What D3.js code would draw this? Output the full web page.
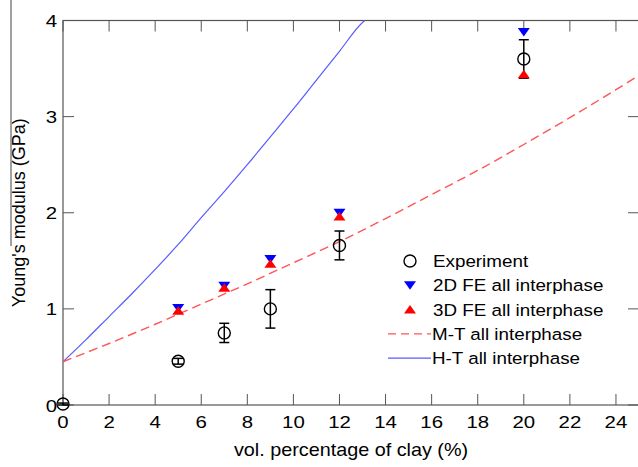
<!DOCTYPE html>
<html>
<head>
<meta charset="utf-8">
<script src="https://d3js.org/d3.v7.min.js"></script>
<style>
  body { margin: 0; background: #fff; }
  svg { display: block; font-family: "Liberation Sans", Arial, sans-serif; }
</style>
</head>
<body>
<div id="chart"></div>
<script>
// experiment (mean and error bar half-length)
var expX = [0, 5, 7, 9, 12, 20]
var expY = [0.01, 0.455, 0.75, 1.0, 1.66, 3.6]
var expErr = [0.01, 0.03, 0.1, 0.2, 0.15, 0.2]

// finite element results
var feX = [5, 7, 9, 12, 20]
var fe2dY = [1.01, 1.24, 1.52, 2.0, 3.88]
var fe3dY = [0.98, 1.22, 1.47, 1.96, 3.44]

// Mori-Tanaka curve
var mtX = [0, 2, 4, 6, 8, 10, 12, 14, 16, 18, 20, 22, 24, 25]
var mtY = [0.45, 0.64, 0.84, 1.05, 1.26, 1.48, 1.70, 1.94, 2.19, 2.44, 2.71, 2.99, 3.28, 3.43]

// Halpin-Tsai curve
var htX = [0, 1, 2, 3, 4, 5, 6, 7, 8, 9, 10, 11, 12, 13, 13.1]
var htY = [0.45, 0.68, 0.92, 1.16, 1.41, 1.67, 1.95, 2.22, 2.50, 2.79, 3.08, 3.38, 3.68, 3.98, 4.0]

var xTicks = [0, 2, 4, 6, 8, 10, 12, 14, 16, 18, 20, 22, 24]
var yTicks = [0, 1, 2, 3, 4]

var legendLabels = ["Experiment", "2D FE all interphase", "3D FE all interphase", "M-T all interphase", "H-T all interphase"]

var W = 638, H = 467
var margin = { top: 20.5, right: -1, bottom: 62, left: 63 }
var width = W - margin.left - margin.right
var height = H - margin.top - margin.bottom

var svg = d3.select("#chart").append("svg")
    .attr("width", W)
    .attr("height", H)

var g = svg.append("g")
    .attr("transform", "translate(" + margin.left + "," + margin.top + ")")

var x = d3.scaleLinear().domain([0, 25]).range([0, width])
var y = d3.scaleLinear().domain([0, 4]).range([height, 0])

var axisColor = "#555"
var tickLen = 11

// the picture's text is a bit wider than it is tall, so stretch it sideways
function wideText(parent, tx, ty, str, size, sx, anchor) {
    return parent.append("text")
        .attr("transform", "translate(" + tx + "," + ty + ") scale(" + sx + ",1)")
        .attr("text-anchor", anchor || "start")
        .attr("font-size", size + "px")
        .text(str)
}

// axes box
g.append("rect")
    .attr("x", 0).attr("y", 0)
    .attr("width", width).attr("height", height)
    .attr("fill", "none")
    .attr("stroke", axisColor)
    .attr("stroke-width", 1.2)

// inward ticks, bottom + top
xTicks.forEach(function(t) {
    g.append("line").attr("x1", x(t)).attr("x2", x(t))
        .attr("y1", height).attr("y2", height - tickLen)
        .attr("stroke", axisColor)
    g.append("line").attr("x1", x(t)).attr("x2", x(t))
        .attr("y1", 0).attr("y2", tickLen)
        .attr("stroke", axisColor)
    wideText(g, x(t), height + 23, t, 17, 1.2, "middle")
})

yTicks.forEach(function(t) {
    g.append("line").attr("x1", 0).attr("x2", tickLen)
        .attr("y1", y(t)).attr("y2", y(t))
        .attr("stroke", axisColor)
    g.append("line").attr("x1", width).attr("x2", width - tickLen)
        .attr("y1", y(t)).attr("y2", y(t))
        .attr("stroke", axisColor)
    wideText(g, -6, y(t) + 6.5, t, 17, 1.2, "end")
})

// axis titles
wideText(svg, margin.left + width / 2, 456, "vol. percentage of clay (%)", 18, 1.1, "middle")

svg.append("text")
    .attr("transform", "translate(25," + (margin.top + height / 2) + ") rotate(-90)")
    .attr("text-anchor", "middle")
    .attr("font-size", "18px")
    .text("Young's modulus (GPa)")

// stray line beside the y title
svg.append("line")
    .attr("x1", 11).attr("x2", 11).attr("y1", 0).attr("y2", 246)
    .attr("stroke", "#444").attr("stroke-width", 1)

// curves
var line = d3.line()
    .x(function(d) { return x(d[0]) })
    .y(function(d) { return y(d[1]) })
    .curve(d3.curveMonotoneX)

g.append("path")
    .datum(htX.map(function(v, i) { return [v, htY[i]] }))
    .attr("d", line)
    .attr("fill", "none")
    .attr("stroke", "#5a5aff")
    .attr("stroke-width", 1.2)

g.append("path")
    .datum(mtX.map(function(v, i) { return [v, mtY[i]] }))
    .attr("d", line)
    .attr("fill", "none")
    .attr("stroke", "#ff5555")
    .attr("stroke-width", 1.4)
    .attr("stroke-dasharray", "9,5")

// marker shapes
function triDown(cx, cy) {
    return "M" + (cx - 6) + "," + (cy - 4) + "L" + (cx + 6) + "," + (cy - 4) + "L" + cx + "," + (cy + 4.5) + "Z"
}
function triUp(cx, cy) {
    return "M" + (cx - 6) + "," + (cy + 4) + "L" + (cx + 6) + "," + (cy + 4) + "L" + cx + "," + (cy - 4.5) + "Z"
}

// experiment error bars + circles
expX.forEach(function(v, i) {
    var cx = x(v)
    var top = y(expY[i] + expErr[i]), bot = y(expY[i] - expErr[i])
    g.append("line").attr("x1", cx).attr("x2", cx).attr("y1", top).attr("y2", bot)
        .attr("stroke", "#000").attr("stroke-width", 1.5)
    ;[top, bot].forEach(function(yy) {
        g.append("line").attr("x1", cx - 5).attr("x2", cx + 5).attr("y1", yy).attr("y2", yy)
            .attr("stroke", "#000").attr("stroke-width", 1.5)
    })
    g.append("circle").attr("cx", cx).attr("cy", y(expY[i])).attr("r", 6)
        .attr("fill", "none").attr("stroke", "#000").attr("stroke-width", 1.4)
})

feX.forEach(function(v, i) {
    g.append("path").attr("d", triDown(x(v), y(fe2dY[i]))).attr("fill", "#0000ff")
})
feX.forEach(function(v, i) {
    g.append("path").attr("d", triUp(x(v), y(fe3dY[i]))).attr("fill", "#ff0000")
})

// legend
var lx = 410, ly0 = 261, dy = 24.3
legendLabels.forEach(function(label, i) {
    var ly = ly0 + i * dy
    if (i == 0) {
        svg.append("circle").attr("cx", lx).attr("cy", ly).attr("r", 6)
            .attr("fill", "none").attr("stroke", "#000").attr("stroke-width", 1.4)
    } else if (i == 1) {
        svg.append("path").attr("d", triDown(lx, ly)).attr("fill", "#0000ff")
    } else if (i == 2) {
        svg.append("path").attr("d", triUp(lx, ly)).attr("fill", "#ff0000")
    } else {
        svg.append("line").attr("x1", 388).attr("x2", 431).attr("y1", ly).attr("y2", ly)
            .attr("stroke", i == 3 ? "#ff5555" : "#5a5aff")
            .attr("stroke-width", 1.3)
            .attr("stroke-dasharray", i == 3 ? "8,5" : null)
    }
    wideText(svg, i < 3 ? 433 : 432, ly + 6, label, 16.5, 1.14)
})
</script>
</body>
</html>
